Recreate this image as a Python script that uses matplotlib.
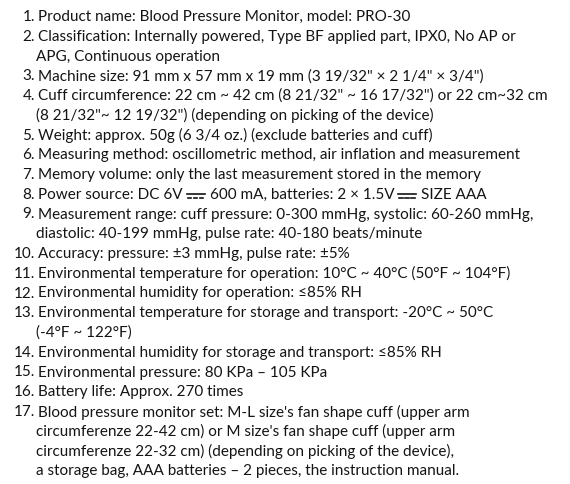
import matplotlib.pyplot as plt
from matplotlib.lines import Line2D

numbers = ["1.", "2.", "3.", "4.", "5.", "6.", "7.", "8.", "9.", "10.",
           "11.", "12.", "13.", "14.", "15.", "16.", "17."]
DC = "\u2393"  # direct current sign, no installed font has it -> drawn by hand
lines = [
    ["Product name: Blood Pressure Monitor, model: PRO-30"],
    ["Classification: Internally powered, Type BF applied part, IPX0, No AP or",
     "APG, Continuous operation"],
    ["Machine size: 91 mm x 57 mm x 19 mm (3 19/32\" × 2 1/4\" × 3/4\")"],
    ["Cuff circumference: 22 cm ~ 42 cm (8 21/32\" ~ 16 17/32\") or 22 cm~32 cm",
     "(8 21/32\"~ 12 19/32\") (depending on picking of the device)"],
    ["Weight: approx. 50g (6 3/4 oz.) (exclude batteries and cuff)"],
    ["Measuring method: oscillometric method, air inflation and measurement"],
    ["Memory volume: only the last measurement stored in the memory"],
    ["Power source: DC 6V" + DC + "600 mA, batteries: 2 × 1.5V" + DC + "SIZE AAA"],
    ["Measurement range: cuff pressure: 0-300 mmHg, systolic: 60-260 mmHg,",
     "diastolic: 40-199 mmHg, pulse rate: 40-180 beats/minute"],
    ["Accuracy: pressure: ±3 mmHg, pulse rate: ±5%"],
    ["Environmental temperature for operation: 10°C ~ 40°C (50°F ~ 104°F)"],
    ["Environmental humidity for operation: ≤85% RH"],
    ["Environmental temperature for storage and transport: -20°C ~ 50°C",
     "(-4°F ~ 122°F)"],
    ["Environmental humidity for storage and transport: ≤85% RH"],
    ["Environmental pressure: 80 KPa – 105 KPa"],
    ["Battery life: Approx. 270 times"],
    ["Blood pressure monitor set: M-L size's fan shape cuff (upper arm",
     "circumferenze 22-42 cm) or M size's fan shape cuff (upper arm",
     "circumferenze 22-32 cm) (depending on picking of the device),",
     "a storage bag, AAA batteries – 2 pieces, the instruction manual."],
]

fam = ["Lato", "DejaVu Sans"]

W, H = 570, 484
fig = plt.figure(figsize=(W / 100, H / 100), dpi=100)
fig.patch.set_facecolor("white")
rend = fig.canvas.get_renderer()

top = 17
step = 19.75
fs = 11.0
color = "#141414"


def dc_sign(x, yc):
    # solid bar over three dashes, x/yc in pixels from the top-left corner
    w = 18
    fig.add_artist(Line2D([x / W, (x + w) / W], [(H - yc + 1) / H] * 2,
                          transform=fig.transFigure, color=color, lw=1.2))
    for i in range(3):
        x0 = x + i * w / 3 + 1
        fig.add_artist(Line2D([x0 / W, (x0 + w / 3 - 2.5) / W], [(H - yc - 3) / H] * 2,
                              transform=fig.transFigure, color=color, lw=1.2))
    return x + w


row = 0
for num, block in zip(numbers, lines):
    y = H - (top + row * step)
    fig.text(35 / W, y / H, num, ha="right", va="center", fontsize=fs,
             family=fam, color=color)
    for k, t in enumerate(block):
        yc = top + row * step
        x = 38 if k == 0 else 36
        parts = t.split(DC)
        for j, p in enumerate(parts):
            txt = fig.text(x / W, (H - yc) / H, p, ha="left", va="center",
                           fontsize=fs, family=fam, color=color)
            x = txt.get_window_extent(rend).x1
            if j < len(parts) - 1:
                x = dc_sign(x + 4, yc) + 5
        row += 1

fig.savefig("out.png", dpi=100, facecolor="white")
